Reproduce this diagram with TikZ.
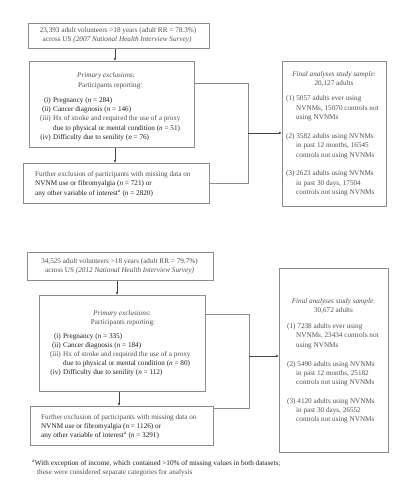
\documentclass[tikz,border=0pt]{standalone}
\usepackage{fontspec}
\setmainfont{Liberation Serif}
\usetikzlibrary{arrows.meta}
\definecolor{tg}{HTML}{505050}
\definecolor{td}{HTML}{1E1E1E}
\definecolor{bx}{HTML}{8C8C8C}
\definecolor{ar}{HTML}{4A4040}
\begin{document}
\begin{tikzpicture}[x=1pt,y=-1pt,
 box/.style={draw=bx,line width=0.9pt,inner sep=0pt,anchor=north west,rectangle},
 tl/.style={anchor=base west,inner sep=0pt,font=\fontsize{7.2}{9}\selectfont,text=tg},
 tc/.style={tl,anchor=base},
 tr/.style={tl,anchor=base east},
 dk/.style={text=td},
 arr/.style={draw=ar,line width=0.8pt,-{Latex[length=3pt,width=2.6pt]}},
 con/.style={draw=bx,line width=0.9pt}]
\useasboundingbox (0,0) rectangle (412,500);
\fill[white] (0,0) rectangle (412,500);

% ---------- boxes ----------
\node[box,minimum width=181pt,minimum height=25pt] (b1) at (28,23) {};
\node[box,minimum width=165pt,minimum height=86pt] (b2) at (29,61) {};
\node[box,minimum width=186pt,minimum height=40pt] (b3) at (23,163) {};
\node[box,minimum width=104pt,minimum height=145pt] (r1) at (282,61) {};
\node[box,minimum width=186pt,minimum height=28pt] (b4) at (27,252) {};
\node[box,minimum width=166pt,minimum height=96pt] (b5) at (39,295) {};
\node[box,minimum width=183pt,minimum height=39pt] (b6) at (30,406) {};
\node[box,minimum width=109pt,minimum height=184pt] (r2) at (279,268) {};

% ---------- connectors ----------
\coordinate (v1) at (115,0);
\coordinate (v2) at (117,0);
\coordinate (v3) at (119,0);
\coordinate (ja) at (248,83);
\coordinate (jb) at (248,183);
\coordinate (jm) at (248,133);
\coordinate (jc) at (249,314);
\coordinate (jd) at (249,408);
\coordinate (jn) at (249,356);

\draw[arr] (b1.south -| v1) -- (b2.north -| v1);
\draw[arr] (b2.south -| v1) -- (b3.north -| v1);
\draw[con] (b2.east |- ja) -- (ja) -- (jb) -- (b3.east |- jb);
\draw[arr] (jm) -- (r1.west |- jm);

\draw[arr] (b4.south -| v2) -- (b5.north -| v2);
\draw[arr] (b5.south -| v3) -- (b6.north -| v3);
\draw[con] (b5.east |- jc) -- (jc) -- (jd) -- (b6.east |- jd);
\draw[arr] (jn) -- (r2.west |- jn);

% ---------- texts: first survey ----------
\node[tc] (t1a) at (118,32.5) {23,393 adult volunteers >18 years (adult RR = 78.3\%)};
\node[tc] (t1b) at (117,41.5) {across US \textit{(2007 National Health Interview Survey)}};

\node[tl] (t2a) at (77,77.5) {\textit{Primary exclusions}:};
\node[tl] (t2b) at (78,87.5) {Participants reporting:};
\node[tr,dk] (l2i) at (51,102.5) {(i)};
\node[tl,dk] (t2i) at (53,102.5) {Pregnancy (\textit{n} = 284)};
\node[tr,dk] (l2ii) at (51,111.5) {(ii)};
\node[tl,dk] (t2ii) at (53,111.5) {Cancer diagnosis (\textit{n} = 146)};
\node[tr] (l2iii) at (51,120.8) {(iii)};
\node[tl] (t2iii) at (53,120.8) {Hx of stroke and required the use of a proxy};
\node[tl,dk] (t2due) at (53,130.2) {due to physical or mental condition (\textit{n} = 51)};
\node[tr,dk] (l2iv) at (51,139.8) {(iv)};
\node[tl,dk] (t2iv) at (53,139.8) {Difficulty due to senility (\textit{n} = 76)};

\node[tl] (t3a) at (35,176.5) {Further exclusion of participants with missing data on};
\node[tl,dk] (t3b) at (35,185.5) {NVNM use or fibromyalgia (\textit{n} = 721) or};
\node[tl,dk] (t3c) at (35,195.3) {any other variable of interest\textsuperscript{a} (\textit{n} = 2820)};

\node[tc] (r1a) at (334,76.5) {\textit{Final analyses study sample}:};
\node[tc] (r1b) at (334,85.5) {20,127 adults};
\node[tl] (r1c) at (286,100.5) {(1) 5057 adults ever using};
\node[tl] (r1d) at (296,110.3) {NVNMs, 15070 controls not};
\node[tl] (r1e) at (296,119.7) {using NVNMs};
\node[tl] (r1f) at (286,138.5) {(2) 3582 adults using NVNMs};
\node[tl] (r1g) at (296,147.8) {in past 12 months, 16545};
\node[tl] (r1h) at (296,157.3) {controls not using NVNMs};
\node[tl] (r1i) at (286,175.8) {(3) 2623 adults using NVNMs};
\node[tl] (r1j) at (296,185.3) {in past 30 days, 17504};
\node[tl] (r1k) at (296,194.7) {controls not using NVNMs};

% ---------- texts: second survey ----------
\node[tc] (t4a) at (119.5,263.5) {34,525 adult volunteers >18 years (adult RR = 79.7\%)};
\node[tc] (t4b) at (119.5,272) {across US \textit{(2012 National Health Interview Survey)}};

\node[tc] (t5a) at (122,315.8) {\textit{Primary exclusions}:};
\node[tc] (t5b) at (123,324.8) {Participants reporting:};
\node[tr,dk] (l5i) at (61,338.2) {(i)};
\node[tl,dk] (t5i) at (63,338.2) {Pregnancy (\textit{n} = 335)};
\node[tr,dk] (l5ii) at (61,347.5) {(ii)};
\node[tl,dk] (t5ii) at (63,347.5) {Cancer diagnosis (\textit{n} = 184)};
\node[tr] (l5iii) at (61,356.8) {(iii)};
\node[tl] (t5iii) at (63,356.8) {Hx of stroke and required the use of a proxy};
\node[tl,dk] (t5due) at (63,365.8) {due to physical or mental condition (\textit{n} = 80)};
\node[tr,dk] (l5iv) at (61,374.8) {(iv)};
\node[tl,dk] (t5iv) at (63,374.8) {Difficulty due to senility (\textit{n} = 112)};

\node[tl] (t6a) at (41,419) {Further exclusion of participants with missing data on};
\node[tl,dk] (t6b) at (41,428.2) {NVNM use or fibromyalgia (\textit{n} = 1126) or};
\node[tl,dk] (t6c) at (41,437.5) {any other variable of interest\textsuperscript{a} (\textit{n} = 3291)};

\node[tc] (r2a) at (333.5,303.5) {\textit{Final analyses study sample}:};
\node[tc] (r2b) at (333.5,312) {30,672 adults};
\node[tl] (r2c) at (287,328.5) {(1) 7238 adults ever using};
\node[tl] (r2d) at (296,337.8) {NVNMs, 23434 controls not};
\node[tl] (r2e) at (296,347.3) {using NVNMs};
\node[tl] (r2f) at (287,366) {(2) 5490 adults using NVNMs};
\node[tl] (r2g) at (296,375.3) {in past 12 months, 25182};
\node[tl] (r2h) at (296,384.8) {controls not using NVNMs};
\node[tl] (r2i) at (287,403) {(3) 4120 adults using NVNMs};
\node[tl] (r2j) at (296,412.5) {in past 30 days, 26552};
\node[tl] (r2k) at (296,421.8) {controls not using NVNMs};

% ---------- footnote ----------
\node[tl,dk] (fn1) at (32,465.8) {\textsuperscript{a}With exception of income, which contained >10\% of missing values in both datasets;};
\node[tl] (fn2) at (37,474.8) {these were considered separate categories for analysis};
\end{tikzpicture}
\end{document}
